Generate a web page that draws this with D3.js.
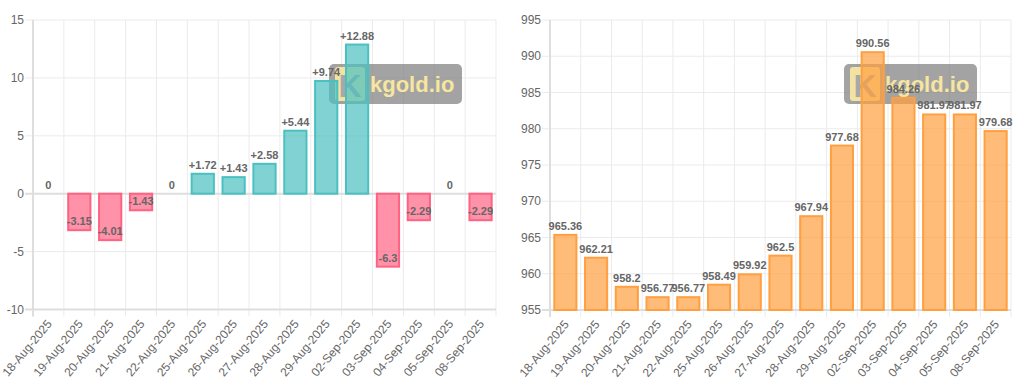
<!DOCTYPE html>
<html>
<head>
<meta charset="utf-8">
<script src="https://cdn.jsdelivr.net/npm/d3@7"></script>
<style>
  body { margin: 0; background: #fff; }
  svg { display: block; font-family: "Liberation Sans", Arial, Helvetica, sans-serif; }
</style>
</head>
<body>
<svg id="chart"></svg>
<script>
var dates = ["18-Aug-2025", "19-Aug-2025", "20-Aug-2025", "21-Aug-2025", "22-Aug-2025",
	"25-Aug-2025", "26-Aug-2025", "27-Aug-2025", "28-Aug-2025", "29-Aug-2025",
	"02-Sep-2025", "03-Sep-2025", "04-Sep-2025", "05-Sep-2025", "08-Sep-2025"];

var changes = [0, -3.15, -4.01, -1.43, 0, 1.72, 1.43, 2.58, 5.44, 9.74, 12.88, -6.3, -2.29, 0, -2.29];

var prices = [965.36, 962.21, 958.2, 956.77, 956.77, 958.49, 959.92, 962.5, 967.94, 977.68,
	990.56, 984.26, 981.97, 981.97, 979.68];

var changeTicks = [-10, -5, 0, 5, 10, 15];
var priceTicks = [955, 960, 965, 970, 975, 980, 985, 990, 995];

var WIDTH = 1024,
	HEIGHT = 389,
	GRID = "#ebebeb",
	AXIS = "#dedede",
	TEXT = "#666";

var svg = d3.select("#chart")
	.attr("width", WIDTH)
	.attr("height", HEIGHT);

svg.append("rect")
	.attr("width", WIDTH)
	.attr("height", HEIGHT)
	.attr("fill", "#fff");

function drawChart(opts) {
	var g = svg.append("g");

	var x = d3.scaleBand()
		.domain(dates)
		.range([opts.left, opts.right])
		.padding(0);

	var y = d3.scaleLinear()
		.domain(opts.domain)
		.range([opts.bottom, opts.top]);

	var barW = x.bandwidth() * 0.72;

	// Vertical grid lines at category edges (with tick stubs below the axis)
	var edges = dates.map(function(d) { return x(d); }).concat([opts.right]);
	g.selectAll("line.vgrid")
		.data(edges)
	  .enter().append("line")
		.attr("x1", function(d) { return d; })
		.attr("x2", function(d) { return d; })
		.attr("y1", opts.top)
		.attr("y2", opts.bottom + 7)
		.attr("stroke", GRID)
		.attr("stroke-width", 1);

	// Horizontal grid lines
	g.selectAll("line.hgrid")
		.data(opts.ticks)
	  .enter().append("line")
		.attr("x1", opts.left - 8)
		.attr("x2", opts.right)
		.attr("y1", function(d) { return y(d); })
		.attr("y2", function(d) { return y(d); })
		.attr("stroke", function(d) { return (d === 0 || d === opts.domain[0]) ? AXIS : GRID; })
		.attr("stroke-width", function(d) { return (d === 0 || d === opts.domain[0]) ? 2 : 1; });

	// Left axis line
	g.append("line")
		.attr("x1", opts.left)
		.attr("x2", opts.left)
		.attr("y1", opts.top)
		.attr("y2", opts.bottom + 7)
		.attr("stroke", AXIS)
		.attr("stroke-width", 2);

	// Y tick labels
	g.selectAll("text.ytick")
		.data(opts.ticks)
	  .enter().append("text")
		.text(function(d) { return d; })
		.attr("text-anchor", "end")
		.attr("x", opts.left - 9)
		.attr("y", function(d) { return y(d); })
		.attr("dy", "0.35em")
		.attr("font-size", 12)
		.attr("fill", TEXT);

	// X tick labels, rotated
	g.selectAll("text.xtick")
		.data(dates)
	  .enter().append("text")
		.text(function(d) { return d; })
		.attr("text-anchor", "end")
		.attr("dy", "0.35em")
		.attr("transform", function(d) {
				return "translate(" + (x(d) + x.bandwidth() / 2 + 1) + "," + (opts.bottom + 12) + ") rotate(-50)";
			})
		.attr("font-size", 12)
		.attr("fill", TEXT);

	// Watermark (behind the bars)
	var wm = g.append("g")
		.attr("transform", "translate(" + (opts.right - 34 - 133) + ",64)");
	wm.append("rect")
		.attr("width", 133)
		.attr("height", 40)
		.attr("rx", 5)
		.attr("fill", "rgba(120,120,120,0.68)");
	wm.append("rect")
		.attr("x", 6)
		.attr("y", 3)
		.attr("width", 30)
		.attr("height", 34)
		.attr("rx", 3)
		.attr("fill", "#f3e3a2");
	wm.append("text")
		.text("K")
		.attr("x", 21)
		.attr("y", 33)
		.attr("text-anchor", "middle")
		.attr("font-size", 32)
		.attr("font-weight", "bold")
		.attr("fill", "#a8a8a8");
	wm.append("text")
		.text("kgold.io")
		.attr("x", 41)
		.attr("y", 28)
		.attr("font-size", 22)
		.attr("font-weight", "bold")
		.attr("fill", "#f6e6a0");

	// Bars
	var base = opts.base;
	g.selectAll("rect.bar")
		.data(opts.values)
	  .enter().append("rect")
		.attr("x", function(d, i) { return x(dates[i]) + (x.bandwidth() - barW) / 2; })
		.attr("y", function(d) { return Math.min(y(d), y(base)); })
		.attr("width", barW)
		.attr("height", function(d) { return Math.abs(y(d) - y(base)); })
		.attr("fill", function(d) { return opts.color(d).fill; })
		.attr("stroke", function(d) { return opts.color(d).stroke; })
		.attr("stroke-width", 2)
		.attr("display", function(d) { return d === base ? "none" : null; });

	// Value labels
	g.selectAll("text.val")
		.data(opts.values)
	  .enter().append("text")
		.text(opts.format)
		.attr("text-anchor", "middle")
		.attr("x", function(d, i) { return x(dates[i]) + x.bandwidth() / 2; })
		.attr("y", function(d) { return y(d) - 5; })
		.attr("font-size", 11)
		.attr("font-weight", "bold")
		.attr("fill", TEXT);
}

// Daily change chart
drawChart({
	left: 33, right: 496, top: 20, bottom: 309.5,
	domain: [-10, 15],
	ticks: changeTicks,
	values: changes,
	base: 0,
	color: function(d) {
		return d < 0
			? {fill: "rgba(255,99,132,0.7)", stroke: "rgb(255,99,132)"}
			: {fill: "rgba(75,192,192,0.7)", stroke: "rgb(75,192,192)"};
	},
	format: function(d) { return d > 0 ? "+" + d : String(d); }
});

// Price chart
drawChart({
	left: 550, right: 1011, top: 20, bottom: 310,
	domain: [955, 995],
	ticks: priceTicks,
	values: prices,
	base: 955,
	color: function() {
		return {fill: "rgba(255,159,64,0.7)", stroke: "rgb(255,159,64)"};
	},
	format: function(d) { return String(d); }
});
</script>
</body>
</html>
